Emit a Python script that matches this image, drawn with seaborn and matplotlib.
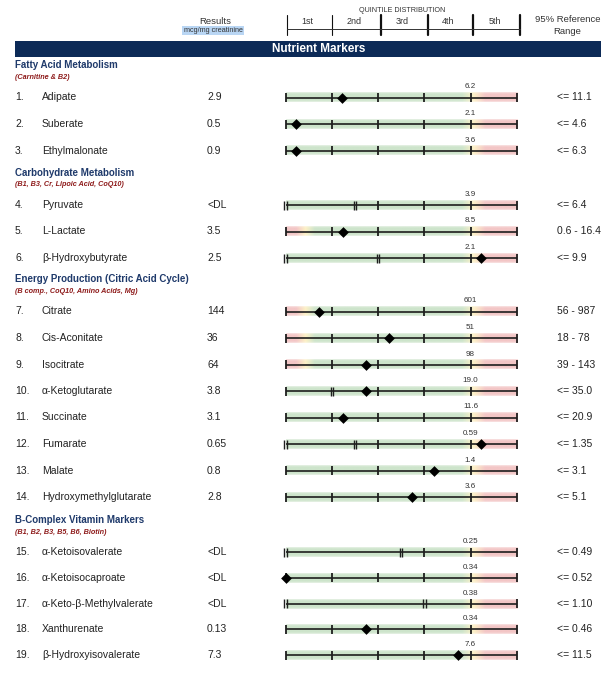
import numpy as np
import pandas as pd
import matplotlib
matplotlib.use("Agg")
import matplotlib.pyplot as plt
import seaborn as sns

# Sections of the report
SECTIONS = ["Fatty Acid Metabolism", "Carbohydrate Metabolism",
            "Energy Production (Citric Acid Cycle)", "B-Complex Vitamin Markers"]
SUBTITLES = ["(Carnitine & B2)", "(B1, B3, Cr, Lipoic Acid, CoQ10)",
             "(B comp., CoQ10, Amino Acids, Mg)", "(B1, B2, B3, B5, B6, Biotin)"]
SECTION_SIZES = [3, 3, 8, 5]

NAMES = ["Adipate", "Suberate", "Ethylmalonate",
         "Pyruvate", "L-Lactate", "β-Hydroxybutyrate",
         "Citrate", "Cis-Aconitate", "Isocitrate", "α-Ketoglutarate", "Succinate",
         "Fumarate", "Malate", "Hydroxymethylglutarate",
         "α-Ketoisovalerate", "α-Ketoisocaproate", "α-Keto-β-Methylvalerate",
         "Xanthurenate", "β-Hydroxyisovalerate"]
RESULTS = ["2.9", "0.5", "0.9", "<DL", "3.5", "2.5", "144", "36", "64", "3.8", "3.1",
           "0.65", "0.8", "2.8", "<DL", "<DL", "<DL", "0.13", "7.3"]
REF_RANGES = ["<= 11.1", "<= 4.6", "<= 6.3", "<= 6.4", "0.6 - 16.4", "<= 9.9",
              "56 - 987", "18 - 78", "39 - 143", "<= 35.0", "<= 20.9", "<= 1.35",
              "<= 3.1", "<= 5.1", "<= 0.49", "<= 0.52", "<= 1.10", "<= 0.46", "<= 11.5"]
# value at the 4th/5th quintile boundary
CUTOFF_LABELS = ["6.2", "2.1", "3.6", "3.9", "8.5", "2.1", "601", "51", "98", "19.0",
                 "11.6", "0.59", "1.4", "3.6", "0.25", "0.34", "0.38", "0.34", "7.6"]
# patient result in quintile units (0 = low end, 5 = high end); None = below DL
MARKER_POS = [1.22, 0.22, 0.22, None, 1.23, 4.23, 0.73, 2.24, 1.74, 1.74, 1.23,
              4.23, 3.22, 2.73, None, 0.0, None, 1.74, 3.74]
# quintile boundaries drawn as single / double ticks
FULL = [0, 1, 2, 3, 4, 5]
SINGLE_TICKS = [FULL, FULL, FULL, [2, 3, 4, 5], FULL, [3, 4, 5],
                FULL, FULL, FULL, [0, 2, 3, 4, 5], FULL, [2, 3, 4, 5], FULL, FULL,
                [3, 4, 5], FULL, [4, 5], FULL, FULL]
DOUBLE_TICKS = [[], [], [], [0, 1.5], [], [0, 2], [], [], [], [1], [], [0, 1.5], [], [],
                [0, 2.5], [], [0, 3], [], []]
LOW_FLAG = [False, False, False, False, True, False, True, True, True, False, False,
            False, False, False, False, False, False, False, False]

QUINTILES = ["1st", "2nd", "3rd", "4th", "5th"]

NAVY = "#0c2a57"
HEAD_BLUE = "#1f3a6b"
DARK_RED = "#8e1b1b"
GREEN = np.array([205, 228, 203]) / 255
YELLOW = np.array([253, 241, 198]) / 255
PINK = np.array([243, 198, 198]) / 255

sns.set_theme(style="white")
plt.rcParams['font.family'] = ['Liberation Sans', 'DejaVu Sans']

# row layout (pixels)
first_row_y = [97.5, 205, 311.5, 552]
row_gap = [26.5, 26.5, 26.5, 25.8]
row_y, header_y = [], []
for s, n in enumerate(SECTION_SIZES):
    header_y.append(first_row_y[s] - 32)
    for i in range(n):
        row_y.append(first_row_y[s] + i * row_gap[s])

fig = plt.figure(figsize=(6.01, 6.76), dpi=100)
ax = fig.add_axes([0, 0, 1, 1])
ax.set_xlim(0, 601)
ax.set_ylim(676, 0)
ax.axis("off")

bar_left, bar_right = 285.7, 516.7
bax = fig.add_axes([bar_left / 601, 0, (bar_right - bar_left) / 601, 1])
bax.set_xlim(0, 5)
bax.set_ylim(676, 0)
bax.axis("off")
bax.patch.set_alpha(0)

# column headers
ax.text(215, 21, "Results", ha="center", va="center", fontsize=6.8, color="#333333")
ax.text(213, 30.5, "mcg/mg creatinine", ha="center", va="center", fontsize=5.2,
        color="#333333", bbox=dict(boxstyle="square,pad=0.15", fc="#b9d6f4", ec="none"))
ax.text(402, 11, "QUINTILE DISTRIBUTION", ha="center", va="center", fontsize=5.2,
        color="#333333")
hdr_lines = [286.7, 332, 380.7, 428, 473, 520]
for i, xl in enumerate(hdr_lines):
    ax.plot([xl, xl], [15, 35], color="#111111", lw=0.8 if i < 2 else 1.6)
ax.plot([hdr_lines[0], hdr_lines[-1]], [28.5, 28.5], color="#333333", lw=0.7)
for i, q in enumerate(QUINTILES):
    ax.text((hdr_lines[i] + hdr_lines[i + 1]) / 2 - 2, 21.5, q, ha="center",
            va="center", fontsize=6.5, color="#333333")
ax.text(568, 19, "95% Reference", ha="center", va="center", fontsize=6.8, color="#333333")
ax.text(567, 32, "Range", ha="center", va="center", fontsize=6.8, color="#333333")

ax.add_patch(plt.Rectangle((15, 40.5), 586, 16.5, color=NAVY, lw=0))
ax.text(319, 49, "Nutrient Markers", ha="center", va="center", fontsize=8.5,
        fontweight="bold", color="white")

for s, title in enumerate(SECTIONS):
    ax.text(15, header_y[s], title, ha="left", va="center", fontsize=7,
            fontweight="bold", color=HEAD_BLUE)
    ax.text(15, header_y[s] + 12, SUBTITLES[s], ha="left", va="center", fontsize=5.2,
            fontweight="bold", fontstyle="italic", color=DARK_RED)


def band_image(low_flag):
    u = np.linspace(0, 5, 600)
    if low_flag:
        stops = [0, 0.22, 0.42, 0.62, 3.8, 4.05, 4.3, 5]
        cols = [PINK, PINK, YELLOW, GREEN, GREEN, YELLOW, PINK, PINK]
    else:
        stops = [0, 3.8, 4.05, 4.3, 5]
        cols = [GREEN, GREEN, YELLOW, PINK, PINK]
    cols = np.array(cols)
    rgb = np.stack([np.interp(u, stops, cols[:, c]) for c in range(3)], axis=-1)
    alpha = np.array([0.6, 1, 1, 1, 1, 1, 1, 0.6])
    img = np.ones((len(alpha), len(u), 4))
    img[:, :, :3] = rgb[None, :, :]
    img[:, :, 3] = alpha[:, None]
    return img


for i, y in enumerate(row_y):
    ax.text(15, y, f"{i + 1}.", ha="left", va="center", fontsize=7.5, color="#222222")
    ax.text(42, y, NAMES[i], ha="left", va="center", fontsize=7.5, color="#222222")
    ax.text(207, y, RESULTS[i], ha="left", va="center", fontsize=7.5, color="#222222")
    ax.text(557, y, REF_RANGES[i], ha="left", va="center", fontsize=7.5, color="#222222")

    bax.imshow(band_image(LOW_FLAG[i]), extent=(0, 5, y + 5, y - 5),
               aspect="auto", interpolation="bilinear", zorder=1)
    bax.hlines(y, 0, 5, color="#1e1e1e", lw=1.2, zorder=2)
    for t in SINGLE_TICKS[i]:
        bax.vlines(t, y - 4.5, y + 4.5, color="#1e1e1e", lw=1.3, zorder=3, clip_on=False)
    for t in DOUBLE_TICKS[i]:
        for d in (-0.028, 0.028):
            bax.vlines(t + d, y - 4.5, y + 4.5, color="#1e1e1e", lw=1.0, zorder=3,
                       clip_on=False)
    bax.text(4.0, y - 10.5, CUTOFF_LABELS[i], ha="center", va="center", fontsize=5.8,
             color="#333333")

markers = pd.DataFrame({"pos": MARKER_POS, "y": row_y}).dropna()
sns.scatterplot(data=markers, x="pos", y="y", marker="D", color="black", s=30,
                linewidth=0, ax=bax, legend=False, zorder=5, clip_on=False)
bax.set_xlim(0, 5)
bax.set_ylim(676, 0)
bax.axis("off")

fig.savefig("out.png", dpi=100)
